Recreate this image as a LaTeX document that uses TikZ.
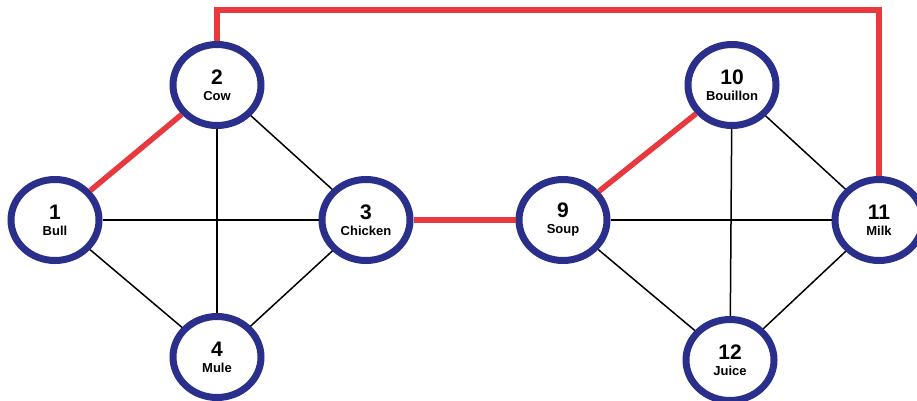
\documentclass[tikz,border=0pt]{standalone}
\usepackage{fontspec}
\setmainfont{Liberation Sans}
\usetikzlibrary{shapes.geometric}
\definecolor{ringblue}{HTML}{2B2F8C}
\definecolor{linkred}{HTML}{E8393E}
\tikzset{
  vert/.style={ellipse, draw=ringblue, line width=7pt, fill=white,
    minimum width=88pt, minimum height=81pt, inner sep=0pt, align=center,
    font=\bfseries},
  blackedge/.style={draw=black, line width=1.5pt},
  rededge/.style={draw=linkred, line width=5.5pt},
}
\newcommand{\vlabel}[2]{\fontsize{21}{21}\selectfont\bfseries #1\\[4pt]\fontsize{13}{13}\selectfont\bfseries #2}
\begin{document}
\begin{tikzpicture}[x=1pt,y=-1pt]
\useasboundingbox (0,0) rectangle (917,400);
\node[vert] (n1) at (55,220) {\vlabel{1}{Bull}};
\node[vert] (n2) at (217,85) {\vlabel{2}{Cow}};
\node[vert] (n3) at (366,220) {\vlabel{3}{Chicken}};
\node[vert] (n4) at (217,357) {\vlabel{4}{Mule}};
\node[vert] (n9) at (563,220) {\vlabel{9}{Soup}};
\node[vert] (n10) at (732,85) {\vlabel{10}{Bouillon}};
\node[vert] (n11) at (879,220) {\vlabel{11}{Milk}};
\node[vert] (n12) at (730,360) {\vlabel{12}{Juice}};
\coordinate (tl) at (217,10);
\coordinate (tr) at (879,10);
\draw[blackedge] (n1) -- (n3);
\draw[blackedge] (n1) -- (n4);
\draw[blackedge] (n2) -- (n3);
\draw[blackedge] (n2) -- (n4);
\draw[blackedge] (n3) -- (n4);
\draw[blackedge] (n9) -- (n11);
\draw[blackedge] (n9) -- (n12);
\draw[blackedge] (n10) -- (n11);
\draw[blackedge] (n10) -- (n12);
\draw[blackedge] (n11) -- (n12);
\draw[rededge] (n1) -- (n2);
\draw[rededge] (n3) -- (n9);
\draw[rededge] (n9) -- (n10);
\draw[rededge, line join=miter] (n2.north) -- (tl) -- (tr) -- (n11.north);
\end{tikzpicture}
\end{document}
